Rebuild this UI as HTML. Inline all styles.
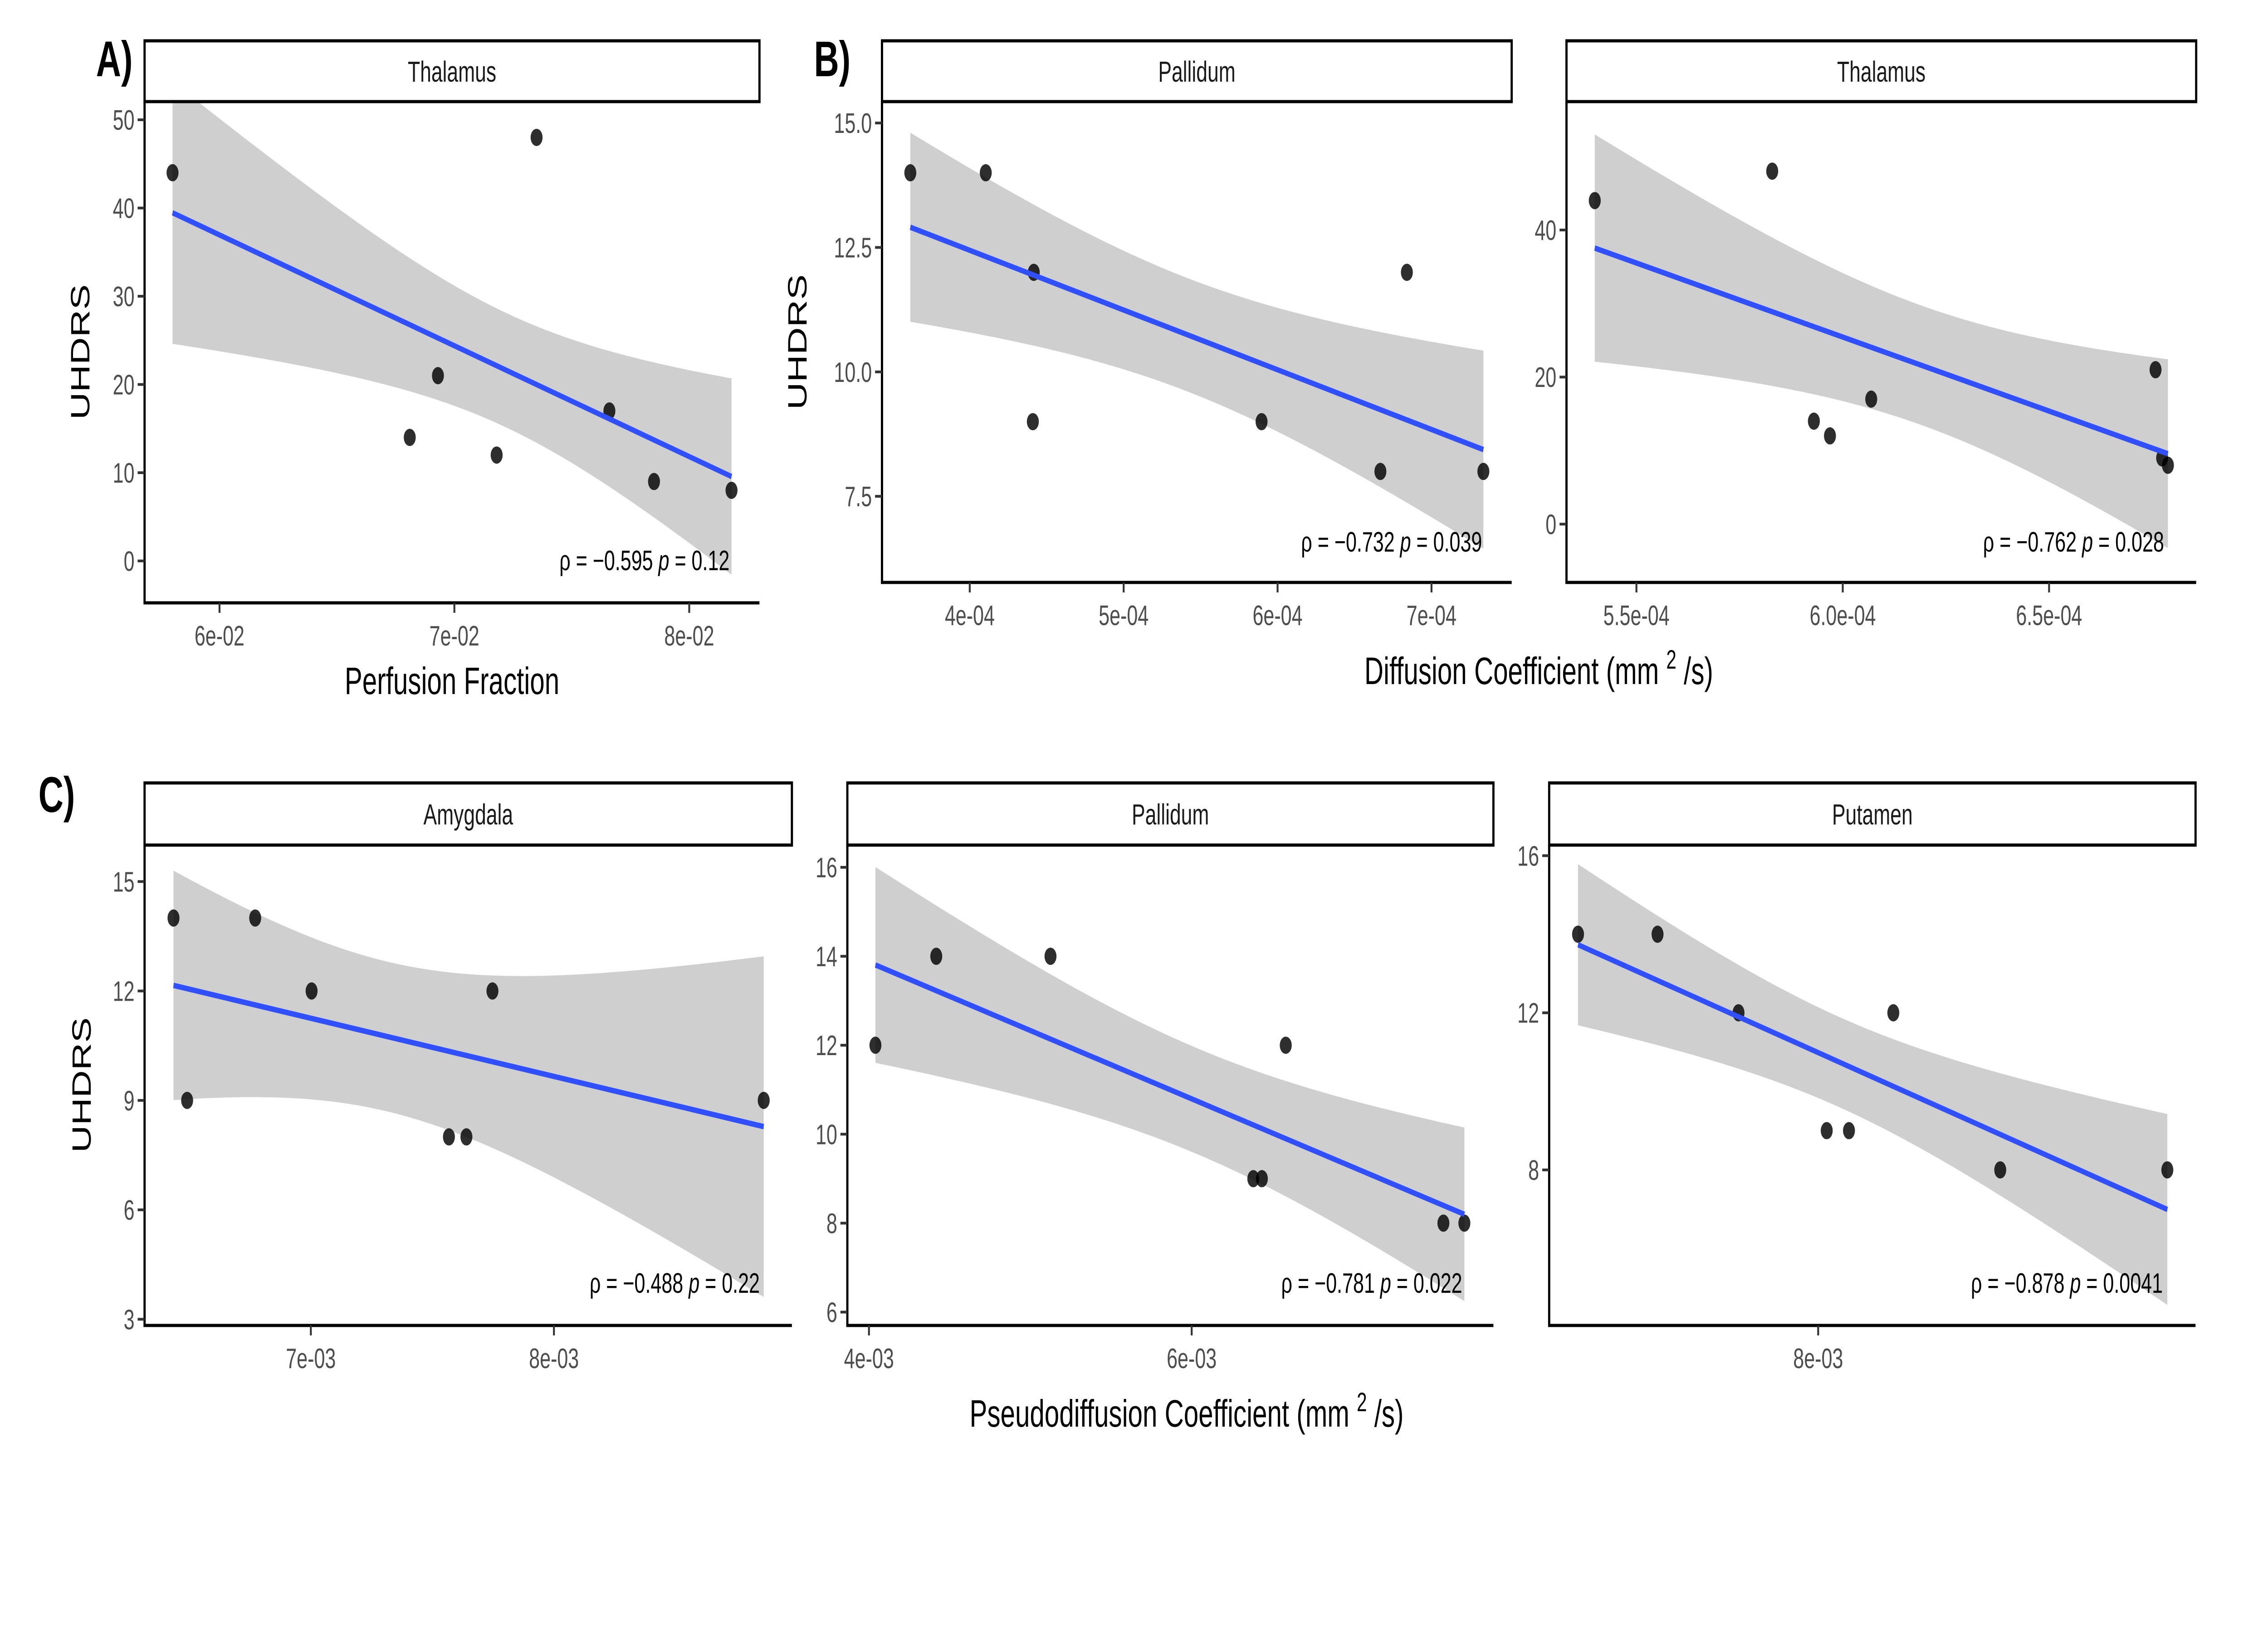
<!DOCTYPE html>
<html><head><meta charset="utf-8"><style>
html,body{margin:0;padding:0;background:#fff;width:100%;height:100%;overflow:hidden;}
svg{display:block;font-family:"Liberation Sans",sans-serif;width:100vw;height:100vh;}
</style></head><body>
<svg id="fig" viewBox="0 0 7200 3600" preserveAspectRatio="none" xmlns="http://www.w3.org/2000/svg"></svg>
<script>
// ---- data ----
const A_x = [0.0580, 0.0735, 0.0693, 0.0681, 0.0718, 0.0766, 0.0785, 0.0818];
const A_y = [44, 48, 21, 14, 12, 17, 9, 8];
const A_xticks = [0.06, 0.07, 0.08];
const A_xlabels = ['6e-02', '7e-02', '8e-02'];
const A_yticks = [0, 10, 20, 30, 40, 50];
const A_ylabels = ['0', '10', '20', '30', '40', '50'];

const B1_x = [3.614e-4, 4.104e-4, 4.416e-4, 4.41e-4, 5.896e-4, 6.84e-4, 6.668e-4, 7.337e-4];
const B1_y = [14, 14, 12, 9, 9, 12, 8, 8];
const B1_xticks = [4e-4, 5e-4, 6e-4, 7e-4];
const B1_xlabels = ['4e-04', '5e-04', '6e-04', '7e-04'];
const B1_yticks = [7.5, 10, 12.5, 15];
const B1_ylabels = ['7.5', '10.0', '12.5', '15.0'];

const B2_x = [5.399e-4, 5.829e-4, 5.93e-4, 5.969e-4, 6.069e-4, 6.758e-4, 6.774e-4, 6.788e-4];
const B2_y = [44, 48, 14, 12, 17, 21, 9, 8];
const B2_xticks = [5.5e-4, 6.0e-4, 6.5e-4];
const B2_xlabels = ['5.5e-04', '6.0e-04', '6.5e-04'];
const B2_yticks = [0, 20, 40];
const B2_ylabels = ['0', '20', '40'];

const C1_x = [6.435e-3, 6.491e-3, 6.771e-3, 7.003e-3, 7.568e-3, 7.64e-3, 7.747e-3, 8.863e-3];
const C1_y = [14, 9, 14, 12, 8, 8, 12, 9];
const C1_xticks = [7e-3, 8e-3];
const C1_xlabels = ['7e-03', '8e-03'];
const C1_yticks = [3, 6, 9, 12, 15];
const C1_ylabels = ['3', '6', '9', '12', '15'];

const C2_x = [4.04e-3, 4.417e-3, 5.125e-3, 6.583e-3, 6.382e-3, 6.435e-3, 7.56e-3, 7.69e-3];
const C2_y = [12, 14, 14, 12, 9, 9, 8, 8];
const C2_xticks = [4e-3, 6e-3];
const C2_xlabels = ['4e-03', '6e-03'];
const C2_yticks = [6, 8, 10, 12, 14, 16];
const C2_ylabels = ['6', '8', '10', '12', '14', '16'];

const C3_x = [6.511e-3, 7.004e-3, 7.506e-3, 8.053e-3, 8.191e-3, 8.466e-3, 9.129e-3, 10.165e-3];
const C3_y = [14, 14, 12, 9, 9, 12, 8, 8];
const C3_xticks = [8e-3];
const C3_xlabels = ['8e-03'];
const C3_yticks = [8, 12, 16];
const C3_ylabels = ['8', '12', '16'];

const NS = 'http://www.w3.org/2000/svg';
const svg = document.getElementById('fig');
function mk(tag, attrs, parent) {
  const e = document.createElementNS(NS, tag);
  for (const k in attrs) e.setAttribute(k, attrs[k]);
  (parent || svg).appendChild(e);
  return e;
}

function drawPanel(id, title, L, R, sTop, sBot, B, xd, yd, xs, ys, xt, xl, yt, yl, annR, annB, annText, ciMult) {
  const g = mk('g', {});
  
  
  const sx = v => L + (v - xd[0]) / (xd[1] - xd[0]) * (R - L);
  const sy = v => B - (v - yd[0]) / (yd[1] - yd[0]) * (B - sBot);
  const cp = mk('clipPath', { id: 'clip-' + id }, g);
  mk('rect', { x: L, y: sBot, width: R - L, height: B - sBot }, cp);
  const n = xs.length;
  const xbar = xs.reduce((a, b) => a + b, 0) / n;
  const ybar = ys.reduce((a, b) => a + b, 0) / n;
  let sxx = 0, sxy = 0;
  for (let i = 0; i < n; i++) { sxx += (xs[i] - xbar) ** 2; sxy += (xs[i] - xbar) * (ys[i] - ybar); }
  const b1 = sxy / sxx, b0 = ybar - b1 * xbar;
  let sse = 0;
  for (let i = 0; i < n; i++) sse += (ys[i] - b0 - b1 * xs[i]) ** 2;
  const s = Math.sqrt(sse / (n - 2));
  const t = 2.4469 * ciMult;
  const xmin = Math.min(...xs), xmax = Math.max(...xs);
  const up = [], lo = [];
  for (let k = 0; k <= 80; k++) {
    const xv = xmin + (xmax - xmin) * k / 80;
    const f = b0 + b1 * xv;
    const se = s * Math.sqrt(1 / n + (xv - xbar) ** 2 / sxx);
    up.push(sx(xv).toFixed(1) + ',' + sy(f + t * se).toFixed(1));
    lo.push(sx(xv).toFixed(1) + ',' + sy(f - t * se).toFixed(1));
  }
  const rib = mk('polygon', { points: up.concat(lo.reverse()).join(' '), fill: '#cfcfcf', 'clip-path': 'url(#clip-' + id + ')' }, g);
  
  
  for (let i = 0; i < n; i++) {
    const c = mk('circle', { cx: sx(xs[i]), cy: sy(ys[i]), r: 19, fill: '#000', 'fill-opacity': 0.82 }, g);
    
    
  }
  const ln = mk('line', { x1: sx(xmin), y1: sy(b0 + b1 * xmin), x2: sx(xmax), y2: sy(b0 + b1 * xmax), stroke: '#3050ff', 'stroke-width': 12 }, g);
  
  
  const ax = mk('path', { d: `M${L},${sBot} V${B} H${R}`, fill: 'none', stroke: '#000', 'stroke-width': 7 }, g);
  
  
  for (let i = 0; i < yt.length; i++) {
    const y = sy(yt[i]);
    mk('line', { x1: L - 22, x2: L, y1: y, y2: y, stroke: '#333', 'stroke-width': 6 }, g);
    const tx = mk('text', { x: L - 32, y: y + 22, 'text-anchor': 'end', 'font-size': 62, fill: '#4d4d4d' }, g);
    tx.textContent = yl[i];
    
    
  }
  for (let i = 0; i < xt.length; i++) {
    const x = sx(xt[i]);
    mk('line', { x1: x, x2: x, y1: B, y2: B + 22, stroke: '#333', 'stroke-width': 6 }, g);
    const tx = mk('text', { x: x, y: B + 94, 'text-anchor': 'middle', 'font-size': 62, fill: '#4d4d4d' }, g);
    tx.textContent = xl[i];
    
    
  }
  const st = mk('rect', { x: L, y: sTop, width: R - L, height: sBot - sTop, fill: '#fff', stroke: '#000', 'stroke-width': 7 }, g);
  
  
  const stt = mk('text', { x: (L + R) / 2, y: (sTop + sBot) / 2 + 23, 'text-anchor': 'middle', 'font-size': 64, fill: '#1a1a1a' }, g);
  stt.textContent = title;
  
  
  const an = mk('text', { x: annR, y: annB, 'text-anchor': 'end', 'font-size': 62, fill: '#000' }, g);
  an.innerHTML = 'ρ = −0.' + annText[0] + '  <tspan font-style="italic">p</tspan> = ' + annText[1];
  
  
}

drawPanel('a-thalamus', 'Thalamus', 459, 2411, 90, 224, 1329, [0.05681, 0.08299], [-4.75, 52.06],
  A_x, A_y, A_xticks, A_xlabels, A_yticks, A_ylabels, 2316, 1257, ['595', '0.12'], 0.55);
drawPanel('b-pallidum', 'Pallidum', 2800, 4799, 90, 224, 1284, [3.43e-4, 7.521e-4], [5.77, 15.43],
  B1_x, B1_y, B1_xticks, B1_xlabels, B1_yticks, B1_ylabels, 4705, 1216, ['732', '0.039'], 0.65);
drawPanel('b-thalamus', 'Thalamus', 4973, 6972, 90, 224, 1284, [5.3305e-4, 6.8565e-4], [-7.93, 57.46],
  B2_x, B2_y, B2_xticks, B2_xlabels, B2_yticks, B2_ylabels, 6870, 1216, ['762', '0.028'], 0.75);
drawPanel('c-amygdala', 'Amygdala', 459, 2514, 1726, 1863, 2922, [6.316e-3, 8.979e-3], [2.83, 16.0],
  C1_x, C1_y, C1_xticks, C1_xlabels, C1_yticks, C1_ylabels, 2412, 2850, ['488', '0.22'], 1.0);
drawPanel('c-pallidum', 'Pallidum', 2690, 4741, 1726, 1863, 2922, [3.866e-3, 7.87e-3], [5.70, 16.5],
  C2_x, C2_y, C2_xticks, C2_xlabels, C2_yticks, C2_ylabels, 4642, 2850, ['781', '0.022'], 0.88);
drawPanel('c-putamen', 'Putamen', 4918, 6970, 1726, 1863, 2922, [6.332e-3, 10.34e-3], [4.04, 16.27],
  C3_x, C3_y, C3_xticks, C3_xlabels, C3_yticks, C3_ylabels, 6866, 2850, ['878', '0.0041'], 0.9);

function label(txt, x, y, size, name, extra) {
  const e = mk('text', Object.assign({ x: x, y: y, 'font-size': size, fill: '#000' }, extra || {}));
  e.innerHTML = txt;
  
  
  return e;
}
label('A)', 305, 168, 110, 'panel-label-a', { 'font-weight': 'bold' });
label('B)', 2584, 168, 110, 'panel-label-b', { 'font-weight': 'bold' });
label('C)', 122, 1790, 110, 'panel-label-c', { 'font-weight': 'bold' });
label('Perfusion Fraction', 1435, 1530, 84, 'x-axis-title-a', { 'text-anchor': 'middle' });
label('Diffusion Coefficient (mm <tspan font-size="58" dy="-34">2</tspan><tspan dy="34"> /s)</tspan>', 4885, 1508, 84, 'x-axis-title-b', { 'text-anchor': 'middle' });
label('Pseudodiffusion Coefficient (mm <tspan font-size="58" dy="-34">2</tspan><tspan dy="34"> /s)</tspan>', 3767, 3145, 84, 'x-axis-title-c', { 'text-anchor': 'middle' });
label('UHDRS', 0, 0, 84, 'y-axis-title-a', { 'text-anchor': 'middle', transform: 'translate(284,776) rotate(-90)' });
label('UHDRS', 0, 0, 84, 'y-axis-title-b', { 'text-anchor': 'middle', transform: 'translate(2560,754) rotate(-90)' });
label('UHDRS', 0, 0, 84, 'y-axis-title-c', { 'text-anchor': 'middle', transform: 'translate(288,2392) rotate(-90)' });
</script>
</body></html>
